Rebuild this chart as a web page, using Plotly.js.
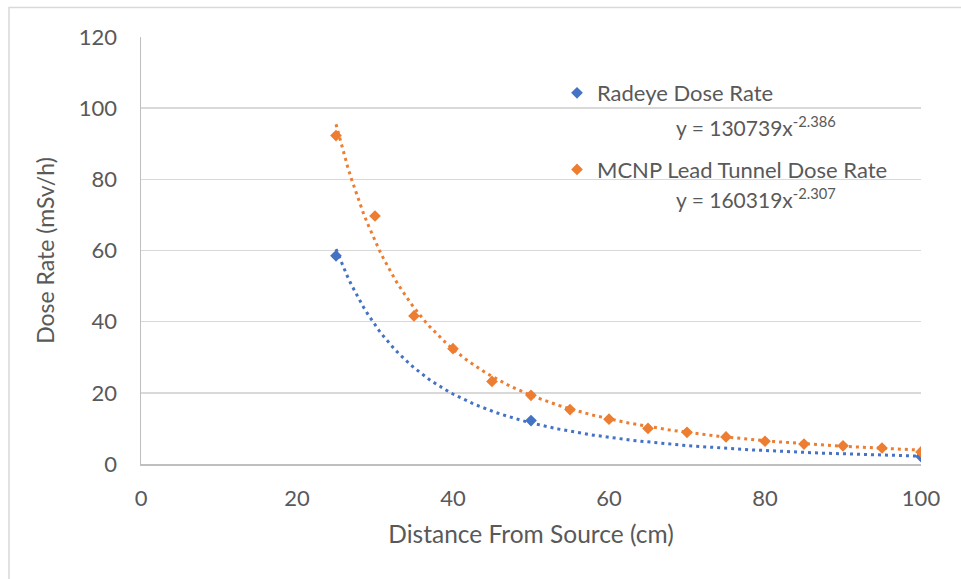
<!DOCTYPE html>
<html><head><meta charset="utf-8">
<script src="https://cdn.plot.ly/plotly-3.0.1.min.js"></script>
<style>html,body{margin:0;padding:0;background:#fff;}</style>
</head><body>
<div id="chart" style="width:961px;height:579px;"></div>
<script>
// Data
const radeyeX = [25, 50, 100];
const radeyeY = [58.5, 12.2, 2.1];
const mcnpX = [25, 30, 35, 40, 45, 50, 55, 60, 65, 70, 75, 80, 85, 90, 95, 100];
const mcnpY = [92.3, 69.7, 41.6, 32.4, 23.2, 19.3, 15.3, 12.6, 10.0, 8.9, 7.6, 6.4, 5.6, 5.1, 4.5, 3.4];
// Trendline equations shown on the chart (power fits)
const radeyeFit = {a: 130739, b: -2.386, label: 'y = 130739x<sup>-2.386</sup>'};
const mcnpFit = {a: 160319, b: -2.307, label: 'y = 160319x<sup>-2.307</sup>'};
const seriesNames = ['Radeye Dose Rate', 'MCNP Lead Tunnel Dose Rate'];
const xTicks = [0, 20, 40, 60, 80, 100];
const yTicks = [0, 20, 40, 60, 80, 100, 120];

function fitCurve(xs, fit) {
  const x0 = xs[0], x1 = xs[xs.length - 1];
  const n = 150, X = [], Y = [];
  for (let i = 0; i <= n; i++) {
    const x = x0 + (x1 - x0) * i / n;
    X.push(x); Y.push(fit.a * Math.pow(x, fit.b));
  }
  return {X, Y};
}

const blue = '#4472C4', orange = '#ED7D31', txt = '#595959';
const FONT = 'Lato, "Open Sans", sans-serif';
const rf = fitCurve(radeyeX, radeyeFit), mf = fitCurve(mcnpX, mcnpFit);

const traces = [
  {x: rf.X, y: rf.Y, mode: 'lines', line: {color: blue, width: 3, dash: '3px,4px'}, showlegend: false, hoverinfo: 'skip'},
  {x: mf.X, y: mf.Y, mode: 'lines', line: {color: orange, width: 3, dash: '3px,4px'}, showlegend: false, hoverinfo: 'skip'},
  {x: radeyeX, y: radeyeY, mode: 'markers', name: seriesNames[0], legendgroup: 'a',
   marker: {symbol: 'diamond', size: 9, color: blue}},
  {x: mcnpX, y: mcnpY, mode: 'markers', name: seriesNames[1], legendgroup: 'b',
   marker: {symbol: 'diamond', size: 9, color: orange}}
];

const L = 141, R = 921, T = 37, B = 464;
const PW = R - L, PH = B - T;
const px2x = p => (p - L) / PW, px2y = p => 1 - (p - T) / PH;

const layout = {
  width: 961, height: 579,
  margin: {l: L, r: 961 - R, t: T, b: 579 - B, pad: 0},
  paper_bgcolor: '#fff', plot_bgcolor: '#fff',
  font: {family: FONT, color: txt, size: 22},
  xaxis: {
    range: [0, 100], tickvals: xTicks, ticktext: xTicks.map(String),
    showgrid: false, zeroline: false, showline: true, linecolor: '#bfbfbf', linewidth: 1.5,
    ticks: '', ticklabelstandoff: 14, tickfont: {size: 22, color: txt},
    title: {text: 'Distance From Source (cm)', font: {size: 24.5, color: txt}, standoff: 16}
  },
  yaxis: {
    range: [0, 120], tickvals: yTicks, ticktext: yTicks.map(String),
    showgrid: true, gridcolor: '#d9d9d9', gridwidth: 1.5, zeroline: false,
    showline: true, linecolor: '#bfbfbf', linewidth: 1.5,
    ticks: '', ticklabelstandoff: 18, tickfont: {size: 22, color: txt},
    title: {text: 'Dose Rate (mSv/h)', font: {size: 23, color: txt}, standoff: 18}
  },
  legend: {
    x: px2x(557), y: px2y(72), xanchor: 'left', yanchor: 'top',
    font: {size: 22, color: txt}, bgcolor: 'rgba(0,0,0,0)', tracegroupgap: 45
  },
  annotations: [
    {xref: 'paper', yref: 'paper', x: px2x(674), y: px2y(126), xanchor: 'left', yanchor: 'middle',
     text: radeyeFit.label, showarrow: false, font: {size: 21, color: txt}},
    {xref: 'paper', yref: 'paper', x: px2x(674), y: px2y(198), xanchor: 'left', yanchor: 'middle',
     text: mcnpFit.label, showarrow: false, font: {size: 21, color: txt}}
  ],
  shapes: [
    {type: 'rect', xref: 'paper', yref: 'paper', x0: px2x(9), x1: px2x(1000), y0: px2y(650), y1: px2y(7.5),
     line: {color: '#d9d9d9', width: 1.5}, fillcolor: 'rgba(0,0,0,0)', layer: 'below'}
  ]
};

Plotly.newPlot('chart', traces, layout, {displayModeBar: false, staticPlot: true});
</script>
</body></html>
